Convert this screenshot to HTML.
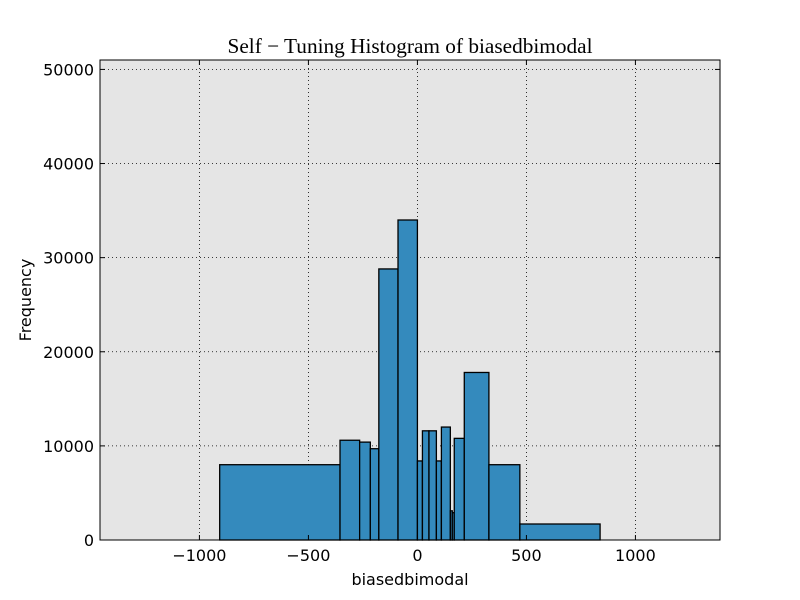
<!DOCTYPE html>
<html><head><meta charset="utf-8"><style>body{margin:0;background:#fff}svg{display:block}</style></head>
<body>
<svg id="chart" width="800" height="600" xmlns="http://www.w3.org/2000/svg" font-family="'DejaVu Sans','Liberation Sans',sans-serif">
<rect width="800" height="600" fill="#fff"/>
<rect x="100" y="60" width="620" height="480" fill="#e5e5e5"/>
<g id="grid"></g><g id="bars"></g><g id="ticks"></g>
<rect x="100" y="60" width="620" height="480" fill="none" stroke="#000" stroke-width="1"/>
<text x="410" y="53" text-anchor="middle" font-family="'Liberation Serif',serif" font-size="21" textLength="365" lengthAdjust="spacingAndGlyphs">Self − Tuning Histogram of biasedbimodal</text>
<text x="410" y="585" text-anchor="middle" font-size="16">biasedbimodal</text>
<text transform="translate(31,300) rotate(-90)" text-anchor="middle" font-size="16">Frequency</text>
</svg>
<script>
const binEdges=[-907,-355,-265,-216,-177,-89,0,23,53,87,110,151,160,169,215,328,470,838];
const counts=[8000,10600,10400,9700,28800,34000,8400,11600,11600,8400,12000,3100,2900,10800,17800,8000,1700];
const xTicks=[-1000,-500,0,500,1000];
const xTickLabels=["−1000","−500","0","500","1000"];
const yTicks=[0,10000,20000,30000,40000,50000];
const yTickLabels=["0","10000","20000","30000","40000","50000"];
const X0=-1456,X1=1388,Y0=0,Y1=51000,L=100,R=720,T=60,B=540;
const sx=v=>L+(v-X0)/(X1-X0)*(R-L);
const sy=v=>B-(v-Y0)/(Y1-Y0)*(B-T);
const NS="http://www.w3.org/2000/svg";
function mk(t,a,p,txt){const e=document.createElementNS(NS,t);for(const k in a)e.setAttribute(k,a[k]);if(txt!==undefined)e.textContent=txt;p.appendChild(e);return e;}
const g=document.getElementById('grid'),b=document.getElementById('bars'),tk=document.getElementById('ticks');
xTicks.forEach((v,i)=>{
 const l=mk('line',{x1:sx(v),x2:sx(v),y1:T,y2:B,stroke:'#000','stroke-width':0.8,'stroke-dasharray':'1,3'},g);
 
 
 mk('line',{x1:sx(v),x2:sx(v),y1:B,y2:B-5,stroke:'#000'},tk);
 mk('line',{x1:sx(v),x2:sx(v),y1:T,y2:T+5,stroke:'#000'},tk);
 const t=mk('text',{x:sx(v),y:B+21,'text-anchor':'middle','font-size':16},tk,xTickLabels[i]);
 
 
});
yTicks.forEach((v,i)=>{
 const l=mk('line',{x1:L,x2:R,y1:sy(v),y2:sy(v),stroke:'#000','stroke-width':0.8,'stroke-dasharray':'1,3'},g);
 
 
 mk('line',{x1:L,x2:L+5,y1:sy(v),y2:sy(v),stroke:'#000'},tk);
 mk('line',{x1:R,x2:R-5,y1:sy(v),y2:sy(v),stroke:'#000'},tk);
 const t=mk('text',{x:L-6,y:sy(v)+6,'text-anchor':'end','font-size':16},tk,yTickLabels[i]);
 
 
});
counts.forEach((c,i)=>{
 const x1=sx(binEdges[i]),x2=sx(binEdges[i+1]);
 const r=mk('rect',{x:x1,y:sy(c),width:x2-x1,height:sy(0)-sy(c),fill:'#348abd',stroke:'#000','stroke-width':1.3},b);
 
 
});
</script>
</body></html>
